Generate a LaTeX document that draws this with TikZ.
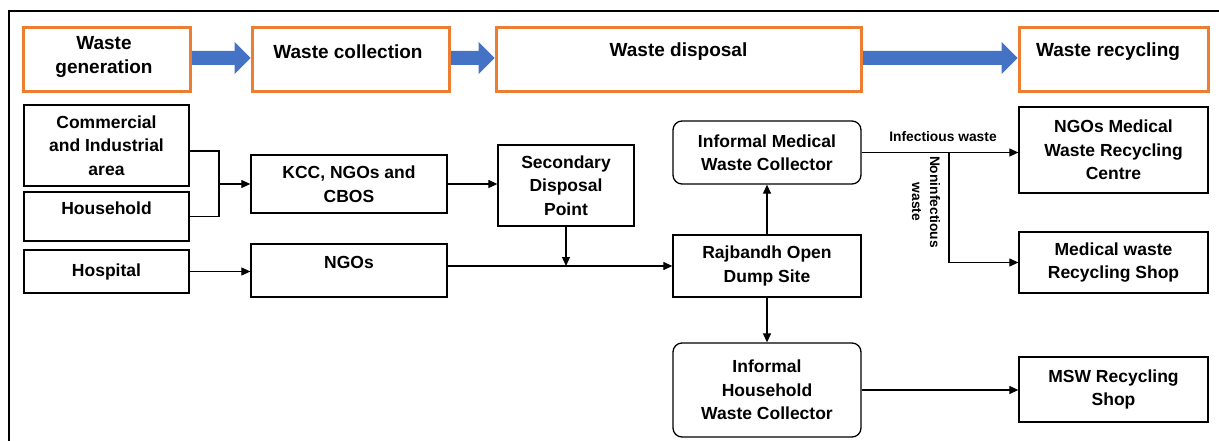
\documentclass[tikz,border=0pt]{standalone}
\usepackage{fontspec}
\setmainfont{Liberation Sans}
\usetikzlibrary{arrows.meta,calc}
\definecolor{orng}{HTML}{ED7D31}
\definecolor{bluar}{HTML}{4472C4}
\begin{document}
\begin{tikzpicture}[x=1pt,y=-1pt,
  hdr/.style={draw=orng,line width=3pt,inner sep=0pt,minimum height=64pt,font=\bfseries\fontsize{19}{24}\selectfont,align=center},
  bx/.style={draw,line width=1.3pt,inner sep=0pt,font=\bfseries\fontsize{17.5}{23.5}\selectfont,align=center},
  rbx/.style={bx,rounded corners=9pt},
  txt/.style={inner sep=0pt,font=\bfseries\fontsize{17.5}{23.5}\selectfont,align=center},
  htxt/.style={inner sep=0pt,font=\bfseries\fontsize{19}{24}\selectfont,align=center},
  lbl/.style={inner sep=0pt,font=\bfseries\fontsize{13.8}{18}\selectfont,align=center},
  con/.style={line width=1.2pt},
  arr/.style={con,-{Triangle[length=9pt,width=8pt]}},
  blu/.style={fill=bluar}]
\useasboundingbox (0,0) rectangle (1219,441);
% frame
\draw[line width=1.5pt] (9,441) -- (9,11) -- (1219,11);
% header boxes
\node[hdr,minimum width=167pt] (gen) at (106.5,60) {};
\node[hdr,minimum width=197pt] (col) at (350.5,60) {};
\node[hdr,minimum width=365pt] (dis) at (678.5,60) {};
\node[hdr,minimum width=189pt] (rec) at (1113.5,60) {};
% blue arrows
\fill[blu] ($(gen.east)+(0,-9)$) -- ($(col.west)+(-16,-9)$) -- ($(col.west)+(-16,-18)$) -- ($(col.west)+(0,-2)$) -- ($(col.west)+(-16,14)$) -- ($(col.west)+(-16,5)$) -- ($(gen.east)+(0,5)$) -- cycle;
\fill[blu] ($(col.east)+(0,-9)$) -- ($(dis.west)+(-16,-9)$) -- ($(dis.west)+(-16,-18)$) -- ($(dis.west)+(0,-2)$) -- ($(dis.west)+(-16,14)$) -- ($(dis.west)+(-16,5)$) -- ($(col.east)+(0,5)$) -- cycle;
\fill[blu] ($(dis.east)+(0,-9)$) -- ($(rec.west)+(-16,-9)$) -- ($(rec.west)+(-16,-18)$) -- ($(rec.west)+(0,-2)$) -- ($(rec.west)+(-16,14)$) -- ($(rec.west)+(-16,5)$) -- ($(dis.east)+(0,5)$) -- cycle;
\node[hdr,minimum width=167pt] (gen2) at (106.5,60) {};
\node[hdr,minimum width=197pt] (col2) at (350.5,60) {};
\node[hdr,minimum width=365pt] (dis2) at (678.5,60) {};
\node[hdr,minimum width=189pt] (rec2) at (1113.5,60) {};
\node[htxt] (gent) at (104,57) {Waste\\generation};
\node[htxt] (colt) at (348,52) {Waste collection};
\node[htxt] (dist) at (678.5,52) {Waste disposal};
\node[htxt] (rect) at (1108,52) {Waste recycling};
% body boxes
\node[bx,minimum width=165pt,minimum height=81pt] (com) at (106.5,145.5) {Commercial\\and Industrial\\area};
\node[bx,minimum width=165pt,minimum height=49pt] (hh) at (106.5,216.5) {};
\node[txt] (hht) at (106.5,208) {Household};
\node[bx,minimum width=165pt,minimum height=43pt] (hos) at (106.5,271.5) {Hospital};
\node[bx,minimum width=196pt,minimum height=58pt] (kcc) at (349,184) {KCC, NGOs and\\CBOS};
\node[bx,minimum width=196pt,minimum height=53pt] (ngo) at (349,270.5) {};
\node[txt] (ngot) at (349,262) {NGOs};
\node[bx,minimum width=136pt,minimum height=81pt] (sec) at (566,185.5) {Secondary\\Disposal\\Point};
\node[rbx,minimum width=188pt,minimum height=63pt] (imc) at (767,152.5) {Informal Medical\\Waste Collector};
\node[bx,minimum width=188pt,minimum height=62pt] (raj) at (767,266) {Rajbandh Open\\Dump Site};
\node[rbx,minimum width=188pt,minimum height=94pt] (ihc) at (767,390) {Informal\\Household\\Waste Collector};
\node[bx,minimum width=189pt,minimum height=86pt] (ngm) at (1113.5,150) {NGOs Medical\\Waste Recycling\\Centre};
\node[bx,minimum width=189pt,minimum height=61pt] (mws) at (1113.5,262.5) {Medical waste\\Recycling Shop};
\node[bx,minimum width=189pt,minimum height=65pt] (msw) at (1113.5,389.5) {MSW Recycling\\Shop};
% connectors
\coordinate (j) at (219,184);
\draw[con] ([yshift=-5.5pt]com.east) -| (j) |- (hh.east);
\draw[arr] (j) -- (kcc.west);
\draw[arr] (kcc.east) -- (kcc.east -| sec.west);
\draw[arr] (hos.east) -- (hos.east -| ngo.west);
\coordinate (m) at (sec.south |- raj.west);
\draw[con] (ngo.east |- m) -- (m);
\draw[arr] (m) -- (raj.west);
\draw[arr] (sec.south) -- (m);
\draw[arr] (raj.north) -- (imc.south);
\draw[arr] (raj.south) -- (ihc.north);
\coordinate (b) at (949,152.5);
\draw[arr] (imc.east) -- (imc.east -| ngm.west);
\draw[arr] (b) |- (mws.west);
\draw[arr] (ihc.east) -- (ihc.east -| msw.west);
\node[lbl] (inf) at (943,137) {Infectious waste};
\node[lbl,rotate=-90] (nonf) at (926,202) {Noninfectious\\waste};
\end{tikzpicture}
\end{document}
